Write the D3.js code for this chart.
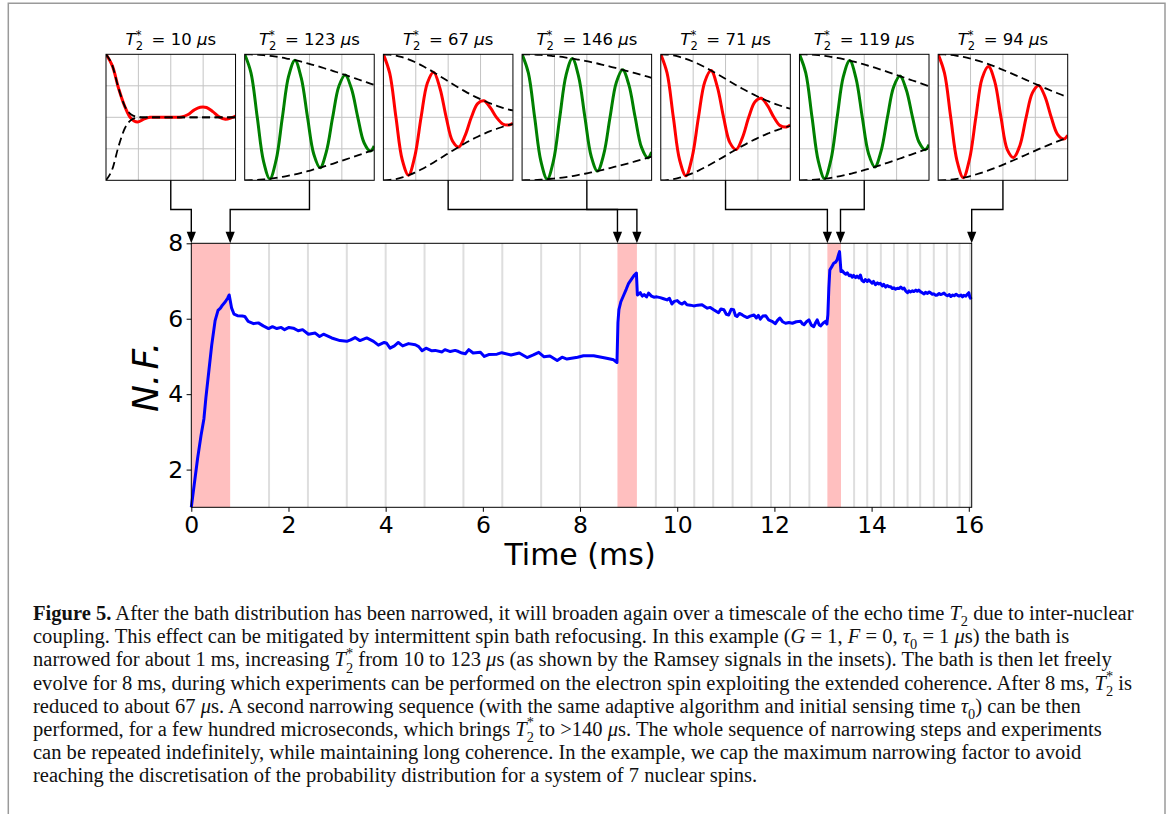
<!DOCTYPE html>
<html>
<head>
<meta charset="utf-8">
<script src="https://cdn.jsdelivr.net/npm/d3@7"></script>
<style>
  body { margin: 0; background: #fff; }
  svg { display: block; }
</style>
</head>
<body>
<svg id="fig" width="1171" height="814"></svg>
<script>
// ---------------- data ----------------
const xTicks = [0, 2, 4, 6, 8, 10, 12, 14, 16];
const yTicks = [2, 4, 6, 8];

// narrowing factor vs time (ms)
const timeMs = [
  0, 0.06, 0.13, 0.2, 0.26, 0.3, 0.36, 0.42, 0.49, 0.55, 0.6, 0.64, 0.7, 0.75, 0.78,
  0.83, 0.88, 0.95, 1.05, 1.1, 1.17, 1.28, 1.38, 1.48, 1.59, 1.67, 1.76, 1.85, 1.92,
  2.01, 2.1, 2.2, 2.29, 2.41, 2.55, 2.64, 2.72, 2.89, 3.06, 3.2, 3.28, 3.37, 3.47,
  3.61, 3.75, 3.85, 3.97, 4.02, 4.09, 4.18, 4.26, 4.35, 4.47, 4.61, 4.68, 4.75, 4.83,
  4.95, 5.02, 5.16, 5.22, 5.33, 5.43, 5.5, 5.57, 5.64, 5.71, 5.8, 5.95, 6.03, 6.12,
  6.29, 6.39, 6.58, 6.75, 6.91, 7.04, 7.15, 7.26, 7.38, 7.53, 7.63, 7.73, 7.95, 8.07,
  8.28, 8.52, 8.62, 8.69, 8.76,
  8.78, 8.8, 8.84, 8.9, 8.95, 9.0, 9.07, 9.12, 9.16, 9.18, 9.24, 9.28, 9.32, 9.37,
  9.41, 9.47, 9.52, 9.58, 9.65, 9.72, 9.79, 9.84, 9.89, 9.94, 10.0, 10.05, 10.1,
  10.15, 10.2, 10.27, 10.34, 10.42, 10.51, 10.57, 10.62, 10.68, 10.75, 10.8, 10.85,
  10.9, 10.96, 11.01, 11.06, 11.11, 11.16, 11.2, 11.23, 11.28, 11.34, 11.39, 11.44,
  11.5, 11.58, 11.63, 11.67, 11.71, 11.76, 11.82, 11.88, 11.95, 12.02, 12.06, 12.11,
  12.17, 12.23, 12.3, 12.37, 12.45, 12.54, 12.58, 12.61, 12.66, 12.71, 12.76, 12.81,
  12.85, 12.88, 12.92, 12.95, 13.0, 13.05, 13.08,
  13.1, 13.12, 13.14, 13.18, 13.22, 13.26, 13.29, 13.32, 13.34, 13.37, 13.4, 13.43,
  13.47, 13.5, 13.54, 13.57, 13.6, 13.63, 13.67, 13.7, 13.74, 13.77, 13.8, 13.84,
  13.87, 13.91, 13.94, 13.98, 14.01, 14.04, 14.08, 14.12, 14.15, 14.18, 14.22, 14.25,
  14.29, 14.32, 14.36, 14.39, 14.43, 14.46, 14.49, 14.53, 14.57, 14.6, 14.64, 14.67,
  14.7, 14.74, 14.77, 14.8, 14.84, 14.87, 14.91, 14.94, 14.97, 15.01, 15.04, 15.08,
  15.11, 15.15, 15.18, 15.21, 15.25, 15.28, 15.32, 15.35, 15.39, 15.42, 15.46, 15.49,
  15.53, 15.56, 15.6, 15.63, 15.67, 15.7, 15.74, 15.77, 15.8, 15.84, 15.87, 15.9,
  15.94, 15.97, 16.0, 16.02, 16.05
];
const narrowingFactor = [
  1.0, 1.6, 2.3, 2.9, 3.35, 3.9, 4.6, 5.3, 5.95, 6.22, 6.28, 6.36, 6.45, 6.55, 6.63,
  6.28, 6.12, 6.08, 6.07, 6.06, 5.93, 5.87, 5.89, 5.81, 5.74, 5.79, 5.74, 5.77, 5.71,
  5.77, 5.75, 5.68, 5.71, 5.59, 5.62, 5.53, 5.59, 5.49, 5.42, 5.40, 5.44, 5.50, 5.42,
  5.49, 5.40, 5.30, 5.37, 5.35, 5.22, 5.28, 5.37, 5.28, 5.34, 5.31, 5.26, 5.15, 5.22,
  5.15, 5.16, 5.12, 5.18, 5.13, 5.16, 5.13, 5.09, 5.07, 5.18, 5.09, 5.11, 5.00, 5.05,
  5.06, 5.10, 5.04, 5.09, 4.97, 5.04, 5.11, 4.99, 5.01, 4.89, 4.98, 4.93, 4.98, 5.02,
  5.02, 4.96, 4.93, 4.91, 4.84,
  5.9, 6.24, 6.45, 6.63, 6.78, 6.94, 7.07, 7.16, 7.21, 6.63, 6.69, 6.60, 6.64, 6.58,
  6.68, 6.60, 6.57, 6.58, 6.56, 6.53, 6.50, 6.54, 6.39, 6.46, 6.48, 6.42, 6.39,
  6.44, 6.37, 6.36, 6.34, 6.36, 6.37, 6.32, 6.28, 6.30, 6.24, 6.20, 6.16,
  6.26, 6.24, 6.12, 6.10, 6.25, 6.24, 6.08, 6.06, 6.14, 6.10, 6.06, 6.03,
  6.07, 6.10, 6.02, 6.09, 5.99, 6.07, 6.08, 5.97, 5.93, 5.87, 5.95, 6.02,
  5.92, 5.88, 5.90, 5.88, 5.92, 5.93, 5.86, 5.84, 5.92, 5.97, 5.83, 5.79,
  5.90, 5.97, 5.84, 5.81, 5.88, 5.93, 5.86,
  6.10, 6.81, 7.29, 7.38, 7.47, 7.50, 7.56, 7.70, 7.78, 7.25, 7.27, 7.22,
  7.18, 7.22, 7.14, 7.16, 7.10, 7.15, 7.09, 7.13, 7.08, 7.16, 7.02, 6.98,
  7.04, 6.99, 7.03, 6.98, 6.94, 6.99, 6.90, 6.95, 6.92, 6.94, 6.87, 6.91,
  6.84, 6.88, 6.85, 6.85, 6.80, 6.82, 6.78, 6.81, 6.80, 6.84, 6.79, 6.81,
  6.74, 6.69, 6.74, 6.71, 6.74, 6.72, 6.76, 6.73, 6.76, 6.71, 6.69, 6.66,
  6.70, 6.67, 6.71, 6.69, 6.65, 6.66, 6.62, 6.63, 6.67, 6.64, 6.66, 6.68,
  6.63, 6.61, 6.64, 6.59, 6.63, 6.61, 6.65, 6.62, 6.60, 6.63, 6.58, 6.62,
  6.60, 6.65, 6.69, 6.58, 6.52
];

// narrowing sequences (ms)
const narrowStart = [0, 8.77, 13.09];
const narrowEnd = [0.8, 9.17, 13.37];

// experiment instants during free evolution (ms)
const experimentTimes = [
  1.6, 2.4, 3.2, 4.0, 4.8, 5.6, 6.4, 7.2, 8.0,
  9.56, 9.95, 10.35, 10.74, 11.14, 11.53, 11.93, 12.32, 12.72,
  13.64, 13.91, 14.19, 14.46, 14.74, 15.0, 15.28, 15.55, 15.81, 16.03
];

// Ramsey insets
const insetT2 = [10, 123, 67, 146, 71, 119, 94];          // µs
const insetColor = ['#ff0000', '#008000', '#ff0000', '#008000', '#ff0000', '#008000', '#ff0000'];
const insetTarget = [0, 0.8, 8.77, 9.17, 13.09, 13.36, 16.06]; // ms, where each signal is taken
const ramseyTime = [0, 4.85, 9.7, 14.55, 19.4, 24.25, 29.1, 33.95, 38.8, 43.65, 48.5,
  53.35, 58.2, 63.05, 67.9, 72.75, 77.6, 82.45, 87.3, 92.15, 97, 100]; // µs
const ramseySignal = [
  [1, .91, .73, .585, .49, .462, .485, .5, .5, .5, .5, .5, .503, .52, .557, .58, .578, .545, .503, .485, .497, .51],
  [1, .853, .5, .151, .012, .160, .5, .828, .953, .812, .5, .207, .100, .228, .5, .749, .836, .726, .5, .298, .232, .272],
  [1, .852, .5, .163, .040, .190, .5, .773, .858, .731, .5, .312, .265, .354, .5, .609, .631, .578, .5, .447, .439, .452],
  [1, .853, .5, .150, .009, .156, .5, .835, .966, .823, .5, .191, .073, .207, .5, .776, .877, .757, .5, .263, .178, .223],
  [1, .852, .5, .161, .036, .185, .5, .781, .871, .742, .5, .299, .245, .339, .5, .624, .651, .592, .5, .434, .423, .439],
  [1, .853, .5, .152, .013, .161, .5, .826, .950, .809, .5, .211, .106, .233, .5, .743, .827, .719, .5, .306, .243, .282],
  [1, .853, .5, .155, .021, .169, .5, .810, .903, .785, .5, .244, .181, .275, .5, .694, .753, .664, .5, .365, .328, .357]
];
// upper decay envelope; the lower one mirrors it about 1/2
const ramseyEnvelope = [
  [1, .912, .730, .587, .522, .504, .5, .5, .5, .5, .5, .5, .5, .5, .5, .5, .5, .5, .5, .5, .5, .5],
  [1, .999, .997, .993, .988, .981, .973, .963, .953, .941, .928, .914, .900, .884, .869, .852, .836, .819, .802, .785, .768, .758],
  [1, .997, .990, .977, .960, .939, .914, .887, .858, .827, .796, .765, .735, .706, .679, .654, .631, .610, .592, .575, .561, .554],
  [1, .999, .998, .995, .991, .986, .981, .974, .966, .957, .948, .938, .927, .915, .903, .890, .877, .864, .850, .836, .822, .813],
  [1, .998, .991, .979, .964, .945, .923, .898, .871, .843, .814, .784, .755, .727, .700, .675, .651, .630, .610, .593, .577, .569],
  [1, .999, .997, .993, .987, .980, .971, .961, .950, .937, .924, .909, .894, .878, .861, .844, .827, .809, .792, .775, .757, .747],
  [1, .999, .995, .988, .979, .968, .954, .939, .922, .903, .883, .862, .841, .819, .797, .775, .753, .732, .711, .691, .672, .661]
];
const insetGrid = [25, 50, 75];
const insetGridY = [0.25, 0.5, 0.75];

// ---------------- drawing ----------------
const SANS = 'DejaVu Sans';
const SERIF = 'Liberation Serif';
const svg = d3.select('#fig');

// page frame
svg.append('path')
  .attr('d', 'M8.3,820 V3.3 H1165 V820')
  .attr('fill', 'none').attr('stroke', '#9a9a9a').attr('stroke-width', 1.5);

// rich text: segments with italic / bold / sub / sup.
// A segment may carry `after`, an advance (em) added before the next segment.
function rich(textSel, segs, size) {
  let shift = 0, carry = 0;
  segs.forEach(s => {
    const seg = typeof s === 'string' ? { t: s } : s;
    const fs = seg.small ? size * 0.7 : size;
    const target = (seg.shift || 0) * size;
    const ts = textSel.append('tspan').text(seg.t)
      .attr('font-size', fs).attr('dy', target - shift);
    const dx = (seg.dx || 0) + carry;
    if (dx) ts.attr('dx', dx * size);
    if (seg.italic) ts.attr('font-style', 'italic');
    if (seg.bold) ts.attr('font-weight', 'bold');
    shift = target;
    carry = seg.after || 0;
  });
}
// T with stacked subscript 2 and superscript *
const t2star = (digitW, starW, supShift) => [
  { t: 'T', italic: true },
  { t: '2', small: true, shift: 0.3 },
  { t: '*', small: true, shift: supShift, dx: -digitW * 0.7, after: (digitW - starW) * 0.7 }
];

// ---- main axes ----
const x = d3.scaleLinear().domain([0, 16.06]).range([191.3, 971.7]);
const y = d3.scaleLinear().domain([1, 8]).range([507.3, 243.3]);

svg.append('g').selectAll('line').data(experimentTimes).join('line')
  .attr('x1', d => x(d)).attr('x2', d => x(d))
  .attr('y1', y(8)).attr('y2', y(1))
  .attr('stroke', '#dedede').attr('stroke-width', 2);

svg.append('g').selectAll('rect').data(narrowStart).join('rect')
  .attr('x', d => x(d)).attr('y', y(8))
  .attr('width', (d, i) => x(narrowEnd[i]) - x(d))
  .attr('height', y(1) - y(8))
  .attr('fill', '#ffbfbf');

const nfLine = d3.line()
  .x((d, i) => x(timeMs[i]))
  .y(d => y(d));
svg.append('path').datum(narrowingFactor)
  .attr('d', nfLine)
  .attr('fill', 'none').attr('stroke', '#0000ff')
  .attr('stroke-width', 3).attr('stroke-linejoin', 'round');

// spines
svg.append('rect')
  .attr('x', x(0)).attr('y', y(8))
  .attr('width', x(16.06) - x(0)).attr('height', y(1) - y(8))
  .attr('fill', 'none').attr('stroke', '#000').attr('stroke-width', 1);

const xAxis = svg.append('g').attr('transform', `translate(0,${y(1)})`)
  .call(d3.axisBottom(x).tickValues(xTicks).tickSize(4.5).tickPadding(5).tickFormat(d3.format('d')));
const yAxis = svg.append('g').attr('transform', `translate(${x(0)},0)`)
  .call(d3.axisLeft(y).tickValues(yTicks).tickSize(4.7).tickPadding(3.5).tickFormat(d3.format('d')));
[xAxis, yAxis].forEach(a => {
  a.select('.domain').remove();
  a.selectAll('line').attr('stroke', '#000').attr('stroke-width', 1);
  a.selectAll('text').attr('font-family', SANS).attr('font-size', 23.5).attr('fill', '#000');
});

svg.append('text')
  .attr('x', 580).attr('y', 565)
  .attr('text-anchor', 'middle')
  .attr('font-family', SANS).attr('font-size', 30)
  .text('Time (ms)');

const yLabel = svg.append('text')
  .attr('transform', 'translate(158,377) rotate(-90)')
  .attr('text-anchor', 'middle')
  .attr('font-family', SANS).attr('font-style', 'italic');
rich(yLabel, [{ t: 'N.' }, { t: 'F.', dx: 0.12 }], 36);

// ---- Ramsey insets ----
const band = d3.scaleBand().domain(d3.range(insetT2.length)).range([106, 1067.7]).paddingInner(0.066);
const insetTop = 54.3, insetH = 126, elbowY = 209.5;

insetT2.forEach((T2, i) => {
  const x0 = band(i), w = band.bandwidth();
  const ix = d3.scaleLinear().domain([0, 100]).range([x0, x0 + w]);
  const iy = d3.scaleLinear().domain([0, 1]).range([insetTop + insetH, insetTop]);
  const g = svg.append('g');

  const clipId = 'inset-clip-' + i;
  svg.append('clipPath').attr('id', clipId).append('rect')
    .attr('x', x0).attr('y', insetTop).attr('width', w).attr('height', insetH);

  g.selectAll('line.gx').data(insetGrid).join('line').attr('class', 'gx')
    .attr('x1', d => ix(d)).attr('x2', d => ix(d))
    .attr('y1', insetTop).attr('y2', insetTop + insetH)
    .attr('stroke', '#c4c4c4').attr('stroke-width', 1);
  g.selectAll('line.gy').data(insetGridY).join('line').attr('class', 'gy')
    .attr('x1', x0).attr('x2', x0 + w)
    .attr('y1', d => iy(d)).attr('y2', d => iy(d))
    .attr('stroke', '#c4c4c4').attr('stroke-width', 1);

  const plot = g.append('g').attr('clip-path', `url(#${clipId})`);
  const sig = d3.line().curve(d3.curveCatmullRom.alpha(0.5))
    .x((d, k) => ix(ramseyTime[k])).y(d => iy(d));
  plot.append('path').datum(ramseySignal[i]).attr('d', sig)
    .attr('fill', 'none').attr('stroke', insetColor[i]).attr('stroke-width', 3);

  const envUp = d3.line().curve(d3.curveMonotoneX)
    .x((d, k) => ix(ramseyTime[k])).y(d => iy(d));
  const envDown = d3.line().curve(d3.curveMonotoneX)
    .x((d, k) => ix(ramseyTime[k])).y(d => iy(1 - d));
  [envUp, envDown].forEach(gen => {
    plot.append('path').datum(ramseyEnvelope[i]).attr('d', gen)
      .attr('fill', 'none').attr('stroke', '#000')
      .attr('stroke-width', 1.8).attr('stroke-dasharray', '8,4.5');
  });

  g.append('rect').attr('x', x0).attr('y', insetTop).attr('width', w).attr('height', insetH)
    .attr('fill', 'none').attr('stroke', '#000').attr('stroke-width', 1);

  // title
  const title = g.append('text')
    .attr('x', x0 + w / 2).attr('y', 45)
    .attr('text-anchor', 'middle').attr('font-family', SANS).attr('fill', '#000');
  rich(title, [...t2star(0.636, 0.5, -0.36), { t: ' = ' + T2 + ' ', dx: 0.2 }, { t: 'μ', italic: true }, { t: 's' }], 16.5);

  // connector with arrow to the main time axis
  const cx = x0 + w / 2, tx = x(insetTarget[i]), tipY = y(8);
  g.append('path')
    .attr('d', `M${cx},${insetTop + insetH} V${elbowY} H${tx} V${tipY - 10}`)
    .attr('fill', 'none').attr('stroke', '#000').attr('stroke-width', 1.4);
  g.append('path')
    .attr('d', `M${tx},${tipY} L${tx - 4.6},${tipY - 11.5} L${tx + 4.6},${tipY - 11.5} Z`)
    .attr('fill', '#000');
});

// ---- caption ----
const mu = { t: 'μ', italic: true };
const T2s = () => t2star(0.5, 0.5, -0.42);
const captionLines = [
  [{ t: 'Figure 5.', bold: true }, ' After the bath distribution has been narrowed, it will broaden again over a timescale of the echo time ',
    { t: 'T', italic: true }, { t: '2', small: true, shift: 0.3 }, ' due to inter-nuclear'],
  ['coupling. This effect can be mitigated by intermittent spin bath refocusing. In this example (',
    { t: 'G', italic: true }, ' = 1, ', { t: 'F', italic: true }, ' = 0, ', { t: 'τ', italic: true },
    { t: '0', small: true, shift: 0.3 }, ' = 1 ', mu, 's) the bath is'],
  ['narrowed for about 1 ms, increasing ', ...T2s(), ' from 10 to 123 ', mu,
    's (as shown by the Ramsey signals in the insets). The bath is then let freely'],
  ['evolve for 8 ms, during which experiments can be performed on the electron spin exploiting the extended coherence. After 8 ms, ',
    ...T2s(), ' is'],
  ['reduced to about 67 ', mu, 's. A second narrowing sequence (with the same adaptive algorithm and initial sensing time ',
    { t: 'τ', italic: true }, { t: '0', small: true, shift: 0.3 }, ') can be then'],
  ['performed, for a few hundred microseconds, which brings ', ...T2s(), ' to >140 ', mu,
    's. The whole sequence of narrowing steps and experiments'],
  ['can be repeated indefinitely, while maintaining long coherence. In the example, we cap the maximum narrowing factor to avoid'],
  ['reaching the discretisation of the probability distribution for a system of 7 nuclear spins.']
];

// size the serif caption so the 7th line spans its measured width
const probe = svg.append('text').attr('font-family', SERIF).attr('x', 0).attr('y', -50);
rich(probe, captionLines[6], 20);
const probeW = probe.node().getComputedTextLength();
probe.remove();
const capSize = 20 * 1049 / probeW;

const caption = svg.append('g').attr('font-family', SERIF).attr('fill', '#111');
captionLines.forEach((segs, k) => {
  const t = caption.append('text').attr('x', 33).attr('y', 620 + k * 23.2);
  rich(t, segs, capSize);
});
</script>
</body>
</html>
